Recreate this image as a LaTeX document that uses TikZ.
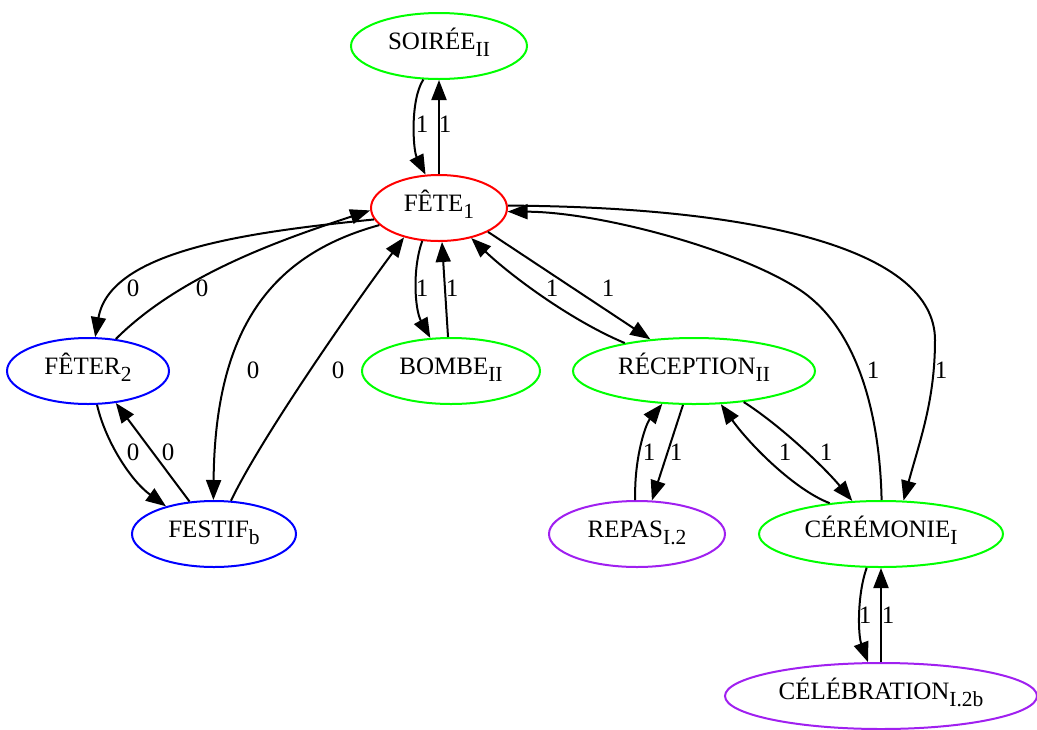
\documentclass[tikz,border=0pt]{standalone}
\usepackage{fontspec}
\setmainfont{Liberation Serif}
\usetikzlibrary{arrows.meta,shapes.geometric}
\definecolor{gvgreen}{RGB}{0,255,0}
\definecolor{gvpurple}{RGB}{160,32,240}
\newcommand\sbs[1]{\raisebox{-7pt}{\fontsize{21.5}{24}\selectfont #1}}
\begin{document}
\begin{tikzpicture}[x=1pt,y=-1pt,
  st/.style={ellipse, draw, line width=2pt, inner sep=0pt, minimum height=66pt,
    text height=14pt, text depth=7pt, font=\fontsize{25}{30}\selectfont},
  ed/.style={line width=2pt, -{Triangle[length=20pt,width=15pt]}},
  lb/.style={inner sep=0pt, font=\fontsize{25}{30}\selectfont}]
\useasboundingbox (0,0) rectangle (1037,729);
% nodes
\node[st, draw=gvgreen, minimum width=176pt] (soiree) at (439,46) {SOIRÉE\sbs{II}};
\node[st, draw=red, minimum width=136pt] (fete) at (439,208) {FÊTE\sbs{1}};
\node[st, draw=blue, minimum width=162pt] (feter) at (88,371) {FÊTER\sbs{2}};
\node[st, draw=blue, minimum width=164pt] (festif) at (214,534) {FESTIF\sbs{b}};
\node[st, draw=gvgreen, minimum width=178pt] (bombe) at (451,371) {BOMBE\sbs{II}};
\node[st, draw=gvgreen, minimum width=242pt] (recep) at (694,371) {RÉCEPTION\sbs{II}};
\node[st, draw=gvpurple, minimum width=176pt] (repas) at (637,534) {REPAS\sbs{I.2}};
\node[st, draw=gvgreen, minimum width=244pt] (cer) at (881,534) {CÉRÉMONIE\sbs{I}};
\node[st, draw=gvpurple, minimum width=312pt] (celeb) at (881,696) {CÉLÉBRATION\sbs{I.2b}};
% edges
\draw[ed] (soiree.245) .. controls (410,100) and (413,150) .. (fete.112);
\draw[ed] (fete.90) -- (soiree.270);
\draw[ed] (fete.190) .. controls (250,232) and (110,250) .. (feter.78);
\draw[ed] (feter.49) .. controls (180,275) and (280,240) .. (fete.182);
\draw[ed] (fete.196) .. controls (270,255) and (215,330) .. (festif.91);
\draw[ed] (festif.63) .. controls (260,440) and (350,310) .. (fete.220);
\draw[ed] (fete.243) .. controls (412,270) and (415,310) .. (bombe.122);
\draw[ed] (bombe.95) -- (fete.275);
\draw[ed] (fete.334) -- (recep.144);
\draw[ed] (recep.158) .. controls (570,320) and (510,275) .. (fete.317);
\draw[ed] (cer.89) .. controls (880,420) and (860,330) .. (800,290)
   .. controls (740,250) and (600,212) .. (fete.357);
\draw[ed] (fete.2) .. controls (760,207) and (935,250) .. (935,340)
   .. controls (935,400) and (920,440) .. (cer.56);
\draw[ed] (recep.252) -- (repas.66);
\draw[ed] (repas.93) .. controls (634,460) and (645,425) .. (recep.226);
\draw[ed] (recep.328) .. controls (780,425) and (825,468) .. (cer.131);
\draw[ed] (cer.149.5) .. controls (795,490) and (750,445) .. (recep.309);
\draw[ed] (cer.247) .. controls (857,595) and (858,635) .. (celeb.111.5);
\draw[ed] (celeb.90) -- (cer.270);
\draw[ed] (festif.127) -- (feter.311);
\draw[ed] (feter.285) .. controls (105,440) and (130,480) .. (festif.150);
% labels
\node[lb] (l1) at (422,124) {1};
\node[lb] (l2) at (445,124) {1};
\node[lb] (l3) at (133,288) {0};
\node[lb] (l4) at (202,288) {0};
\node[lb] (l5) at (253,370) {0};
\node[lb] (l6) at (338,370) {0};
\node[lb] (l7) at (422,288) {1};
\node[lb] (l8) at (452,288) {1};
\node[lb] (l9) at (608,288) {1};
\node[lb] (l10) at (552,288) {1};
\node[lb] (l11) at (873,370) {1};
\node[lb] (l12) at (941,370) {1};
\node[lb] (l13) at (676,452) {1};
\node[lb] (l14) at (649,452) {1};
\node[lb] (l15) at (826,452) {1};
\node[lb] (l16) at (785,452) {1};
\node[lb] (l17) at (865,615) {1};
\node[lb] (l18) at (888,615) {1};
\node[lb] (l19) at (168,452) {0};
\node[lb] (l20) at (133,452) {0};
\end{tikzpicture}
\end{document}
